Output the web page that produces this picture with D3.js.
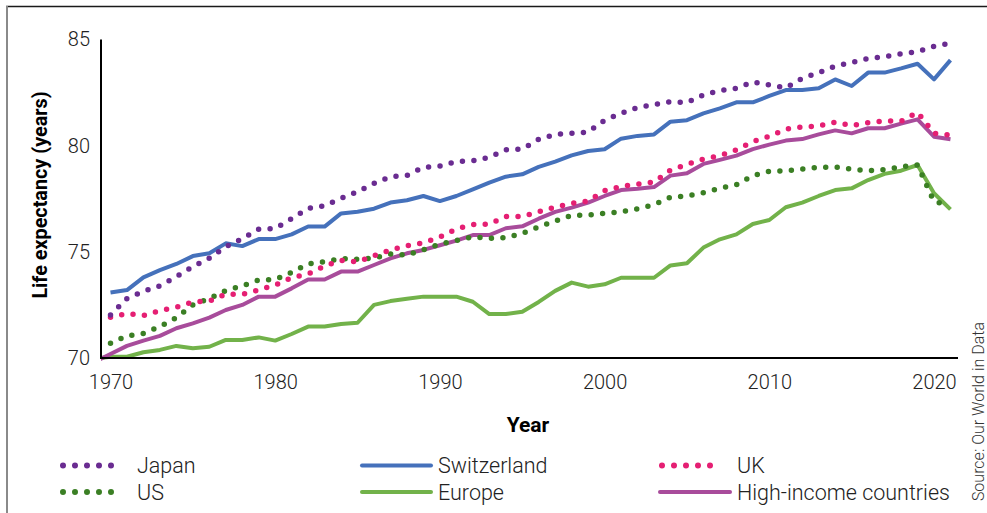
<!DOCTYPE html>
<html>
<head>
<meta charset="utf-8">
<script src="https://cdn.jsdelivr.net/npm/d3@7"></script>
<style>
  html, body { margin: 0; padding: 0; background: #fff; }
  svg { display: block; font-family: Roboto, 'Open Sans', sans-serif; }
</style>
</head>
<body>
<div id="chart"></div>
<script>
const years = d3.range(1970, 2022);

const japan = [72.03, 72.8, 73.14, 73.4, 73.83, 74.3, 74.7, 75.24, 75.62, 76.07,
  76.1, 76.56, 77.05, 77.17, 77.52, 77.83, 78.23, 78.54, 78.6, 78.98,
  79.04, 79.25, 79.29, 79.45, 79.81, 79.84, 80.3, 80.53, 80.58, 80.64,
  81.2, 81.52, 81.79, 81.93, 82.07, 82.03, 82.39, 82.6, 82.7, 83.0,
  82.86, 82.72, 83.17, 83.44, 83.75, 83.92, 84.11, 84.19, 84.33, 84.43,
  84.68, 84.82];

const switzerland = [73.08, 73.2, 73.8, 74.14, 74.43, 74.8, 74.93, 75.4, 75.27, 75.6,
  75.6, 75.82, 76.19, 76.19, 76.81, 76.89, 77.03, 77.32, 77.43, 77.63,
  77.39, 77.63, 77.94, 78.26, 78.54, 78.65, 79.0, 79.25, 79.54, 79.75,
  79.83, 80.33, 80.46, 80.53, 81.13, 81.2, 81.52, 81.76, 82.04, 82.04,
  82.34, 82.62, 82.62, 82.7, 83.12, 82.81, 83.44, 83.44, 83.64, 83.86,
  83.12, 84.03];

const uk = [71.92, 72.1, 72.0, 72.23, 72.39, 72.64, 72.68, 73.0, 73.0, 73.2,
  73.44, 73.78, 73.96, 74.33, 74.6, 74.52, 74.82, 75.09, 75.29, 75.43,
  75.7, 76.08, 76.28, 76.31, 76.67, 76.66, 76.89, 77.11, 77.28, 77.39,
  77.88, 78.08, 78.19, 78.29, 78.85, 79.12, 79.37, 79.53, 79.8, 80.2,
  80.44, 80.78, 80.88, 80.93, 81.11, 80.94, 81.08, 81.16, 81.15, 81.57,
  80.58, 80.5];

const us = [70.69, 71.04, 71.16, 71.48, 71.9, 72.5, 72.8, 73.17, 73.4, 73.67,
  73.7, 74.03, 74.43, 74.54, 74.68, 74.65, 74.71, 74.9, 74.85, 75.1,
  75.37, 75.53, 75.71, 75.64, 75.67, 75.87, 76.17, 76.45, 76.72, 76.73,
  76.81, 76.88, 77.03, 77.22, 77.57, 77.63, 77.79, 77.99, 78.16, 78.59,
  78.79, 78.82, 78.9, 78.98, 79.0, 78.9, 78.82, 78.87, 79.01, 79.09,
  77.36, 77.2];

// Europe and high-income series begin before the axis and are clipped at it
const europeYears = d3.range(1969, 2022);
const europe = [69.95, 70.06, 70.06, 70.27, 70.38, 70.57, 70.46, 70.53, 70.85, 70.85, 70.97,
  70.82, 71.13, 71.48, 71.48, 71.6, 71.66, 72.5, 72.68, 72.79, 72.89,
  72.89, 72.89, 72.65, 72.07, 72.07, 72.18, 72.64, 73.16, 73.55, 73.36,
  73.47, 73.78, 73.78, 73.78, 74.36, 74.46, 75.2, 75.59, 75.82, 76.31,
  76.5, 77.1, 77.32, 77.63, 77.91, 77.99, 78.38, 78.67, 78.82, 79.09,
  77.76, 77.0];

const highIncome = [69.8, 70.19, 70.57, 70.82, 71.04, 71.4, 71.63, 71.9, 72.26, 72.5, 72.89,
  72.89, 73.28, 73.7, 73.7, 74.07, 74.07, 74.38, 74.69, 74.93, 75.09,
  75.31, 75.53, 75.79, 75.79, 76.11, 76.2, 76.56, 76.88, 77.08, 77.32,
  77.63, 77.91, 77.97, 78.05, 78.59, 78.7, 79.14, 79.33, 79.53, 79.84,
  80.05, 80.24, 80.31, 80.53, 80.72, 80.58, 80.82, 80.82, 81.04, 81.24,
  80.42, 80.3];

const yTicks = [70, 75, 80, 85];
const xTicks = [1970, 1980, 1990, 2000, 2010, 2020];

const color = {
  japan: '#6a2c91',
  switzerland: '#4571bb',
  uk: '#e51f73',
  us: '#3b7f24',
  europe: '#72b24a',
  highIncome: '#a84c9b',
  text: '#222222'
};

const series = [
  { name: 'Switzerland', years: years, values: switzerland, color: color.switzerland, dotted: false },
  { name: 'Europe', years: europeYears, values: europe, color: color.europe, dotted: false },
  { name: 'High-income countries', years: europeYears, values: highIncome, color: color.highIncome, dotted: false },
  { name: 'US', years: years, values: us, color: color.us, dotted: true },
  { name: 'UK', years: years, values: uk, color: color.uk, dotted: true },
  { name: 'Japan', years: years, values: japan, color: color.japan, dotted: true }
];

const legendItems = [
  { name: 'Japan', color: color.japan, dotted: true, col: 0, row: 0 },
  { name: 'US', color: color.us, dotted: true, col: 0, row: 1 },
  { name: 'Switzerland', color: color.switzerland, dotted: false, col: 1, row: 0 },
  { name: 'Europe', color: color.europe, dotted: false, col: 1, row: 1 },
  { name: 'UK', color: color.uk, dotted: true, col: 2, row: 0 },
  { name: 'High-income countries', color: color.highIncome, dotted: false, col: 2, row: 1 }
];

const width = 987;
const height = 513;

const svg = d3.select('#chart')
  .append('svg')
  .attr('width', width)
  .attr('height', height);

// frame round the figure
svg.append('line')
  .attr('x1', 6).attr('x2', width).attr('y1', 6.5).attr('y2', 6.5)
  .attr('stroke', '#1a1a1a').attr('stroke-width', 1.5);
svg.append('line')
  .attr('x1', 7).attr('x2', 7).attr('y1', 6).attr('y2', height)
  .attr('stroke', '#8a8a8a').attr('stroke-width', 2);

const plot = { left: 101, right: 958, top: 39.5, bottom: 358 };

const x = d3.scaleLinear()
  .domain([1970, 2020])
  .range([110.5, 110.5 + 50 * 16.47]);

const y = d3.scaleLinear()
  .domain([70, 85])
  .range([plot.bottom, plot.top]);

svg.append('clipPath')
  .attr('id', 'plot-clip')
  .append('rect')
  .attr('x', plot.left)
  .attr('y', 0)
  .attr('width', plot.right - plot.left)
  .attr('height', plot.bottom + 10);

const line = d3.line()
  .x((d) => x(d[0]))
  .y((d) => y(d[1]));

const lines = svg.append('g').attr('clip-path', 'url(#plot-clip)');

series.forEach((s) => {
  const path = lines.append('path')
    .datum(d3.zip(s.years, s.values))
    .attr('fill', 'none')
    .attr('stroke', s.color)
    .attr('d', line);
  if (s.dotted) {
    path.attr('stroke-width', 5.5)
      .attr('stroke-linecap', 'round')
      .attr('stroke-dasharray', '0 11.5');
  } else {
    path.attr('stroke-width', 4)
      .attr('stroke-linejoin', 'round');
  }
});

// axes
svg.append('g')
  .attr('transform', `translate(${plot.left}, 0)`)
  .call(d3.axisLeft(y).tickValues(yTicks).tickSize(0).tickPadding(11))
  .call((g) => g.select('.domain').remove())
  .call((g) => g.selectAll('text')
    .attr('fill', color.text)
    .style('font-family', 'Roboto')
    .style('font-weight', 300)
    .style('font-size', '20px'));

svg.append('g')
  .attr('transform', `translate(0, ${plot.bottom})`)
  .call(d3.axisBottom(x).tickValues(xTicks).tickFormat(d3.format('d')).tickSize(0).tickPadding(17))
  .call((g) => g.select('.domain').remove())
  .call((g) => g.selectAll('text')
    .attr('fill', color.text)
    .style('font-family', 'Roboto')
    .style('font-weight', 300)
    .style('font-size', '20px'));

svg.append('line')
  .attr('x1', plot.left).attr('x2', plot.left)
  .attr('y1', plot.top).attr('y2', plot.bottom + 1)
  .attr('stroke', '#000').attr('stroke-width', 2);
svg.append('line')
  .attr('x1', plot.left - 1).attr('x2', plot.right)
  .attr('y1', plot.bottom).attr('y2', plot.bottom)
  .attr('stroke', '#000').attr('stroke-width', 2);

// axis titles
svg.append('text')
  .attr('transform', 'translate(47, 195) rotate(-90)')
  .attr('text-anchor', 'middle')
  .attr('fill', '#000')
  .style('font-weight', 700)
  .style('font-size', '19.8px')
  .text('Life expectancy (years)');

svg.append('text')
  .attr('x', 528)
  .attr('y', 432)
  .attr('text-anchor', 'middle')
  .attr('fill', '#000')
  .style('font-weight', 700)
  .style('font-size', '21px')
  .text('Year');

// legend: dotted keys and solid keys have slightly different extents
const legendCols = [
  { dot: [63, 123], solid: [62, 130], tx: 137 },
  { dot: [362, 422], solid: [362, 431], tx: 438 },
  { dot: [662, 722], solid: [660, 730], tx: 737 }
];
const legendRows = [465.5, 492];

const legend = svg.append('g');
legendItems.forEach((d) => {
  const c = legendCols[d.col];
  const ly = legendRows[d.row];
  const ext = d.dotted ? c.dot : c.solid;
  const key = legend.append('line')
    .attr('x1', ext[0]).attr('x2', ext[1])
    .attr('y1', ly).attr('y2', ly)
    .attr('stroke', d.color)
    .attr('stroke-linecap', 'round');
  if (d.dotted) {
    key.attr('stroke-width', 6).attr('stroke-dasharray', '0 12');
  } else {
    key.attr('stroke-width', 4);
  }
  legend.append('text')
    .attr('x', c.tx)
    .attr('y', ly)
    .attr('dy', '0.35em')
    .attr('fill', color.text)
    .style('font-weight', 300)
    .style('font-size', '21.5px')
    .text(d.name);
});

svg.append('text')
  .attr('transform', 'translate(984, 322) rotate(-90)')
  .attr('text-anchor', 'end')
  .attr('fill', '#333')
  .style('font-weight', 300)
  .style('font-size', '16px')
  .text('Source: Our World in Data');
</script>
</body>
</html>
